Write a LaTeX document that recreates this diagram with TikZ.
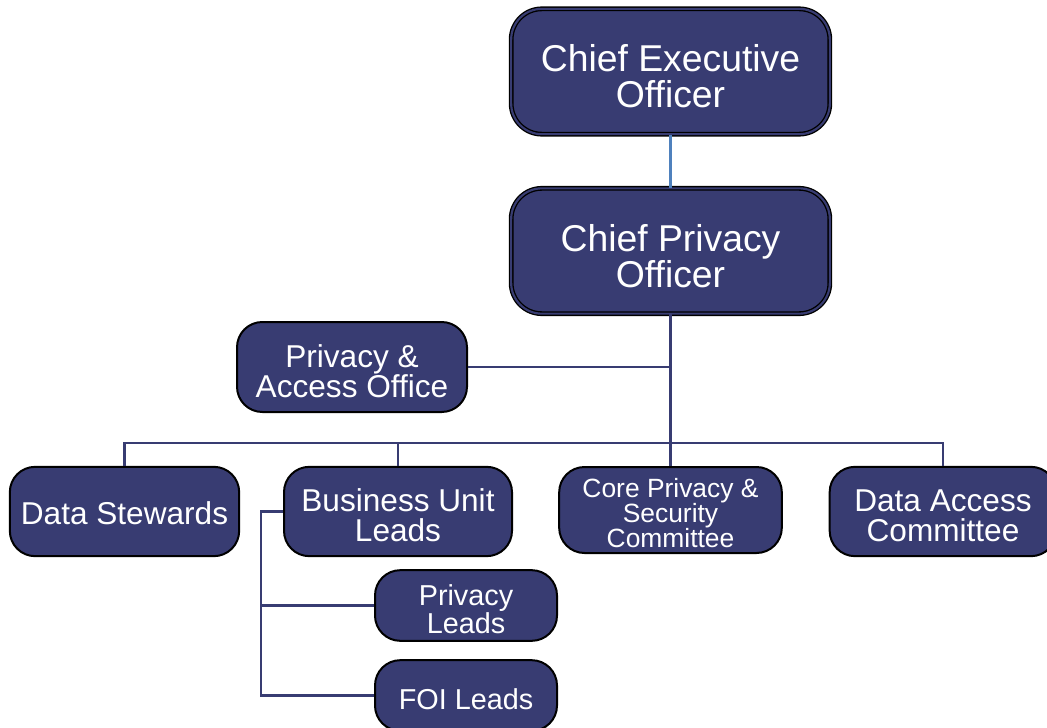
\documentclass[tikz,border=0pt]{standalone}
\usepackage{fontspec}
\setmainfont{Liberation Sans}
\usepackage{xcolor}

\definecolor{boxnavy}{RGB}{56,60,114}
\definecolor{linkblue}{RGB}{79,129,189}

% strut that drops the box text a little
\newcommand{\topstrut}{\rule{0pt}{0.98em}}

\tikzset{
  orgbox/.style={draw=black, line width=1.5pt, fill=boxnavy, text=white, rounded corners=19pt, align=center, inner sep=0pt},
  topbox/.style={orgbox, line width=1pt, double=boxnavy, double distance=1.6pt, rounded corners=23pt, minimum width=239pt, minimum height=94pt, font=\fontsize{28}{27}\selectfont},
  midbox/.style={orgbox, minimum width=172pt, minimum height=67pt, font=\fontsize{23.7}{22.5}\selectfont},
  smallbox/.style={orgbox, minimum width=136.5pt, minimum height=53pt, font=\fontsize{21.6}{21}\selectfont},
  link/.style={draw=boxnavy, line width=2.2pt},
}

\begin{document}
\begin{tikzpicture}[x=0.75pt,y=0.75pt,yscale=-1,xscale=1]
        \useasboundingbox (0,0) rectangle (1047,728);

        %Shape: Rounded Rect
        \node [topbox] (ceo) at (670.5,71.5) {\topstrut Chief Executive\\Officer};
        %Shape: Rounded Rect
        \node [topbox] (cpo) at (670.5,251) {\topstrut Chief Privacy\\Officer};
        %Shape: Rounded Rect
        \node [midbox, minimum width=172.5pt, minimum height=67.5pt] (pao) at (352,367) {\topstrut Privacy \&\\Access Office};

        %Shape: Rounded Rect
        \node [midbox] (ds) at (124.5,511.5) {\rule{0pt}{0.85em}Data Stewards};
        %Shape: Rounded Rect
        \node [midbox, minimum width=171pt] (bul) at (398,511.5) {\topstrut Business Unit\\Leads};
        %Shape: Rounded Rect
        \node [midbox, minimum width=167pt, minimum height=64.5pt, font=\fontsize{19.8}{18.75}\selectfont] (core) at (670.5,510) {\topstrut Core Privacy \&\\Security\\Committee};
        %Shape: Rounded Rect
        \node [midbox, minimum width=170pt] (dac) at (943,511.5) {\topstrut Data Access\\Committee};

        %Shape: Rounded Rect
        \node [smallbox] (pl) at (466,605.5) {\topstrut Privacy\\Leads};
        %Shape: Rounded Rect
        \node [smallbox] (foi) at (466,695.5) {\topstrut FOI Leads};

        \coordinate (bus) at (670.5,443);
        \coordinate (spine) at (261,511.5);

        %Straight Lines
        \draw [draw=linkblue, line width=1.8pt] (ceo) -- (cpo);
        %Straight Lines
        \draw [link] (cpo.south) -- (bus);
        \draw [link] (pao.east) -- (pao.east -| bus);
        %Straight Lines
        \draw [link] (ds.north) |- (bus) -| (dac.north);
        \draw [link] (bul.north) -- (bul.north |- bus);
        \draw [link] (core.north) -- (bus);
        %Straight Lines
        \draw [link] (bul.west) -- (spine) |- (foi.west);
        \draw [link] (pl.west) -- (pl.west -| spine);

        \end{tikzpicture}
\end{document}
